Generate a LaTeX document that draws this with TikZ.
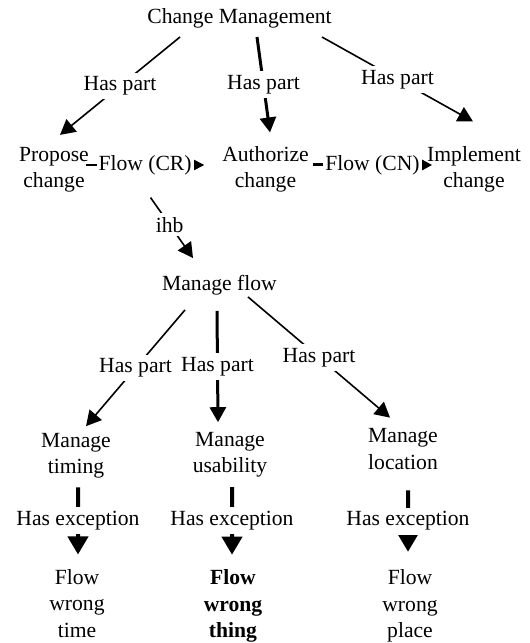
\documentclass[tikz,border=0pt]{standalone}
\usepackage{fontspec}
\setmainfont{Liberation Serif}
\usetikzlibrary{arrows.meta}
\tikzset{
  every picture/.style = {
    x = 1bp,
    y = -1bp,
    line width = 1.6bp,
    >={Triangle[length=15bp,width=16bp]},
  }
  ,
  concept/.style = {
    align = center,
    inner sep = 0pt,
    outer sep = 0pt,
    font = \fontsize{21.7}{26.5}\selectfont
  }
  , % labels of edges
  label-edge/.style = {
    fill = white,
    inner sep = 4bp,
    font = \fontsize{21.7}{26.5}\selectfont
  }
  ,
  heavy/.style = {
    line width = 3bp
  }
  ,
  small-tip/.style = {
    -{Triangle[length=12bp,width=12bp]}
  }
  ,
  wide-tip/.style = {
    line width = 4bp,
    -{Triangle[length=18bp,width=20bp]}
  }
}

\begin{document}
\begin{tikzpicture}
  \useasboundingbox (0,0) rectangle (530,643);

  \node at (239.5,18.8) [concept] (cm) {Change Management};
  \node at (54,169.5) [concept] (pc) {Propose\\change};
  \node at (265.5,169.5) [concept] (ac) {Authorize\\change};
  \node at (474,169.5) [concept] (ic) {Implement\\change};
  \node at (219.5,285) [concept] (mf) {Manage flow};
  \node at (76,455.8) [concept] (mt) {Manage\\timing};
  \node at (230,454.5) [concept] (mu) {Manage\\usability};
  \node at (403,449) [concept] (ml) {Manage\\location};
  \node at (77,603.5) [concept] (ft) {Flow\\wrong\\time};
  \node at (233,606) [concept] (fth) {\textbf{Flow}\\\textbf{wrong}\\\textbf{thing}};
  \node at (410,606) [concept] (fp) {Flow\\wrong\\place};

  % has part
  \path ([xshift=-59.5bp,yshift=-8.4bp]cm.south) edge [->] node [label-edge] {Has part} ([xshift=6bp,yshift=12bp]pc.north);
  \path ([xshift=17.5bp,yshift=-8.4bp]cm.south) edge [->,heavy] node [label-edge] {Has part} ([xshift=4.5bp,yshift=14bp]ac.north);
  \path ([xshift=82.5bp,yshift=-8.4bp]cm.south) edge [->] node [label-edge] {Has part} ([xshift=-1bp,yshift=25bp]ic.north);

  % flows
  \draw [small-tip] ([xshift=-3bp,yshift=4.5bp]pc.east) -- node [label-edge,inner sep=2bp] (fcr) {Flow (CR)} ([xshift=-18bp,yshift=4.5bp]ac.west);
  \draw [small-tip,heavy] ([xshift=4bp,yshift=4.5bp]ac.east) -- node [label-edge,inner sep=2bp] (fcn) {Flow (CN)} ([xshift=5bp,yshift=4.5bp]ic.west);
  \path ([xshift=5.5bp,yshift=-20bp]fcr.south) edge [->] node [label-edge,pos=.45] {ihb} ([xshift=-26.5bp,yshift=17bp]mf.north);

  % parts of manage flow
  \path ([xshift=-34.5bp,yshift=-15bp]mf.south) edge [->] node [label-edge] {Has part} ([xshift=10bp,yshift=7bp]mt.north);
  \path ([xshift=-2.5bp,yshift=-16bp]mf.south) edge [->,heavy] node [label-edge] {Has part} ([xshift=-12bp,yshift=9.7bp]mu.north);
  \path ([xshift=28.5bp,yshift=-2bp]mf.south) edge [->] node [label-edge] {Has part} ([xshift=-13bp,yshift=11bp]ml.north);

  % exceptions
  \path ([xshift=2bp,yshift=-9bp]mt.south) edge [wide-tip] node [label-edge] {Has exception} ([xshift=1bp,yshift=15bp]ft.north);
  \path ([xshift=2bp,yshift=-10bp]mu.south) edge [wide-tip] node [label-edge] {Has exception} ([xshift=-1bp,yshift=15bp]fth.north);
  \path ([xshift=5bp,yshift=-21bp]ml.south) edge [wide-tip] node [label-edge] {Has exception} ([xshift=-2bp,yshift=18bp]fp.north);
\end{tikzpicture}
\end{document}
